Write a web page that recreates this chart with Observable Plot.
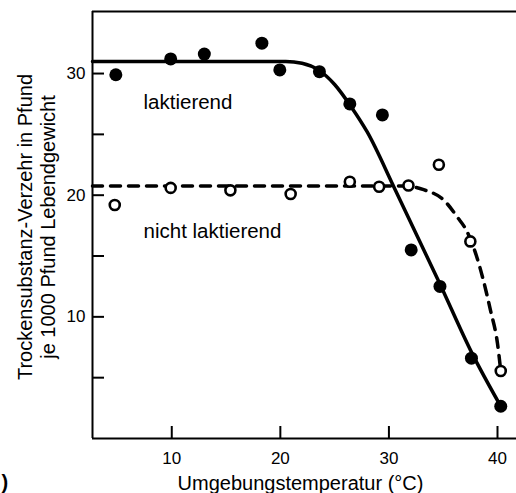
<!DOCTYPE html>
<html><head><meta charset="utf-8">
<script src="https://cdn.jsdelivr.net/npm/d3@7"></script>
<script src="https://cdn.jsdelivr.net/npm/@observablehq/plot@0.6"></script>
<style>html,body{margin:0;padding:0;background:#fff}svg{display:block}</style>
</head><body><div id="chart"></div><script>
// measured points: lactating cows (filled)
const lactTemp   = [4.85, 9.9, 13.0, 18.3, 19.95, 23.6, 26.4, 29.4, 32.05, 34.7, 37.6, 40.3];
const lactIntake = [29.9, 31.2, 31.6, 32.5, 30.3, 30.15, 27.5, 26.6, 15.5, 12.5, 6.6, 2.65];
// measured points: non-lactating cows (open)
const dryTemp    = [4.75, 9.9, 15.4, 20.95, 26.4, 29.1, 31.8, 34.6, 37.5, 40.3];
const dryIntake  = [19.2, 20.6, 20.4, 20.1, 21.1, 20.7, 20.8, 22.5, 16.2, 5.55];
// fitted curves
const lactCurveT = [2.7, 20.5, 22, 23.5, 25, 26.5, 28, 30.5, 34.7, 37.6, 40.3];
const lactCurveV = [31.0, 31.0, 30.85, 30.3, 29.1, 27.3, 25.2, 20.6, 12.7, 7.1, 2.65];
const dryCurveT  = [2.7, 31.5, 33.2, 35.05, 36.3, 37.2, 38.1, 38.7, 39.35, 40.0, 40.3];
const dryCurveV  = [20.75, 20.75, 20.45, 19.6, 18.2, 17.0, 14.9, 13.0, 10.55, 7.8, 5.55];
// axes
const xDomain = [2.7, 41.75];
const yDomain = [0, 35.1];
const xTicks = [10, 20, 30, 40];
const yTicks = [5, 10, 15, 20, 25, 30];
const yLabelTicks = [10, 20, 30];
const xTitle = "Umgebungstemperatur (°C)";
const yTitle = "Trockensubstanz-Verzehr in Pfund\nje 1000 Pfund Lebendgewicht";
const labelNames = ["laktierend", "nicht laktierend"];
const labelT = [7.4, 7.4];
const labelV = [27.6, 17.0];
const panelTag = ")";

const zip = (a, b) => a.map((v, i) => ({t: v, v: b[i]}));
const lact = zip(lactTemp, lactIntake);
const dry = zip(dryTemp, dryIntake);
const lactCurve = zip(lactCurveT, lactCurveV);
const dryCurve = zip(dryCurveT, dryCurveV);
const labels = labelNames.map((n, i) => ({name: n, t: labelT[i], v: labelV[i]}));

const font = "'Liberation Sans', Arial, Helvetica, sans-serif";
const chart = Plot.plot({
  width: 516, height: 493,
  marginLeft: 92, marginRight: 0, marginTop: 11, marginBottom: 55,
  style: {fontFamily: font, fontSize: "17px", color: "#000", background: "#fff", overflow: "hidden"},
  x: {domain: xDomain},
  y: {domain: yDomain},
  marks: [
    Plot.ruleY(yDomain, {stroke: "#000", strokeWidth: 2}),
    Plot.ruleX([xDomain[0]], {stroke: "#000", strokeWidth: 2}),
    Plot.axisX(xTicks, {tickSize: -12, tickPadding: 25, strokeWidth: 2, fontSize: 17, label: null}),
    Plot.axisY(yTicks, {tickSize: -12, strokeWidth: 2, tickFormat: () => "", label: null}),
    Plot.axisY(yLabelTicks, {tickSize: 0, tickPadding: 7, fontSize: 17, label: null}),
    Plot.line(dryCurve, {x: "t", y: "v", curve: "monotone-x", stroke: "#000", strokeWidth: 3.5, strokeDasharray: "10,8"}),
    Plot.line(lactCurve, {x: "t", y: "v", curve: "monotone-x", stroke: "#000", strokeWidth: 3.5}),
    Plot.dot(dry, {x: "t", y: "v", r: 5, fill: "#fff", stroke: "#000", strokeWidth: 2.6}),
    Plot.dot(lact, {x: "t", y: "v", r: 6.5, fill: "#000", stroke: "none"}),
    Plot.text(labels, {x: "t", y: "v", text: "name", textAnchor: "start", lineAnchor: "middle", fontSize: 20.5, fill: "#000"}),
    Plot.text([xTitle], {frameAnchor: "bottom", dx: -4, dy: 45, lineAnchor: "middle", fontSize: 20, fill: "#000"}),
    Plot.text([yTitle], {frameAnchor: "left", rotate: -90, dx: -56.5, dy: 2, lineAnchor: "middle", textAnchor: "middle", lineHeight: 1.15, fontSize: 20, fill: "#000"}),
    Plot.text([panelTag], {frameAnchor: "bottom-left", dx: -91, dy: 44, textAnchor: "start", lineAnchor: "middle", fontSize: 20, fontWeight: "bold", fill: "#000"})
  ]
});
document.getElementById("chart").appendChild(chart);
</script></body></html>
